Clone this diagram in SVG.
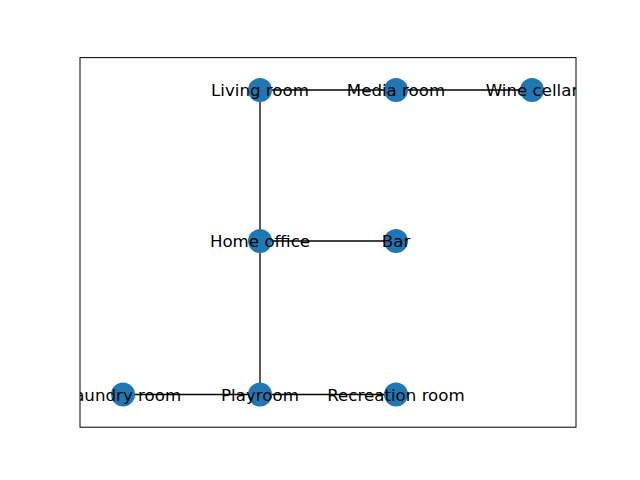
<svg xmlns="http://www.w3.org/2000/svg" width="640" height="480" viewBox="0 0 640 480">
<style>
.edge{stroke:#000;stroke-width:1.3;fill:none}
.node circle{fill:#1f77b4}
.node text{font-family:"DejaVu Sans",sans-serif;font-size:16.67px;fill:#000;text-anchor:middle}
</style>
<defs><clipPath id="ax"><rect x="80" y="57.6" width="496" height="369.6"/></clipPath></defs>
<rect width="640" height="480" fill="#fff"/>
<g clip-path="url(#ax)">
<g id="edges">
<line class="edge" x1="260" y1="90" x2="396" y2="90"/>
<line class="edge" x1="396" y1="90" x2="532" y2="90"/>
<line class="edge" x1="260" y1="90" x2="260" y2="241"/>
<line class="edge" x1="260" y1="241" x2="396" y2="241"/>
<line class="edge" x1="260" y1="241" x2="260" y2="394.5"/>
<line class="edge" x1="123" y1="394.5" x2="260" y2="394.5"/>
<line class="edge" x1="260" y1="394.5" x2="396" y2="394.5"/>
</g>
<g id="n-living" class="node"><circle cx="260" cy="90" r="12"/><text x="260" y="96">Living room</text></g>
<g id="n-media" class="node"><circle cx="396" cy="90" r="12"/><text x="396" y="96">Media room</text></g>
<g id="n-wine" class="node"><circle cx="532" cy="90" r="12"/><text x="532" y="96">Wine cellar</text></g>
<g id="n-office" class="node"><circle cx="260" cy="241" r="12"/><text x="260" y="247">Home office</text></g>
<g id="n-bar" class="node"><circle cx="396" cy="241" r="12"/><text x="396" y="247">Bar</text></g>
<g id="n-laundry" class="node"><circle cx="123" cy="394.5" r="12"/><text x="123" y="400.5">Laundry room</text></g>
<g id="n-play" class="node"><circle cx="260" cy="394.5" r="12"/><text x="260" y="400.5">Playroom</text></g>
<g id="n-rec" class="node"><circle cx="396" cy="394.5" r="12"/><text x="396" y="400.5">Recreation room</text></g>
</g>
<rect x="80" y="57.6" width="496" height="369.6" fill="none" stroke="#000" stroke-width="1"/>
</svg>
